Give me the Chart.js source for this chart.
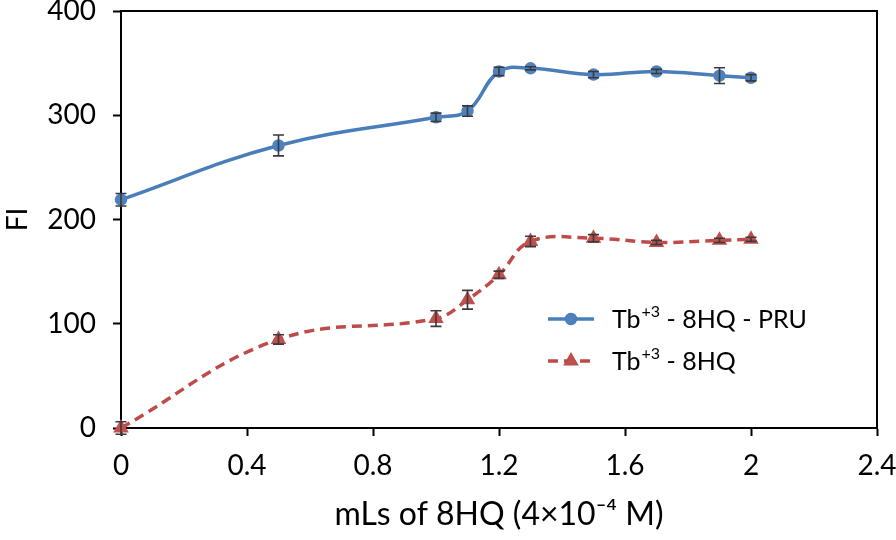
<!DOCTYPE html>
<html>
<head>
<meta charset="utf-8">
<script src="https://cdn.jsdelivr.net/npm/chart.js@4.4.1/dist/chart.umd.min.js"></script>
<style>
  body { margin: 0; background: #fff; }
  canvas { display: block; }
</style>
</head>
<body>
<canvas id="fiChart" width="896" height="540"></canvas>
<script>
// data
const xValues   = [0, 0.5, 1.0, 1.1, 1.2, 1.3, 1.5, 1.7, 1.9, 2.0];
const pruValues = [219, 271, 298, 304, 342, 345, 339, 342, 338, 336];
const pruErrors = [6, 10, 4, 5, 4, 1.5, 3, 2, 7.5, 3];
const hqValues  = [0, 85, 105, 123, 147, 179, 182, 178, 180, 181];
const hqErrors  = [6, 4.5, 7.5, 9, 3.5, 5, 3.5, 2, 2, 2];

const xTicks = [0, 0.4, 0.8, 1.2, 1.6, 2, 2.4];
const yTicks = [0, 100, 200, 300, 400];

// legend text split as [base, superscript, rest]
const seriesNames = [
    ['Tb', '+3', ' - 8HQ - PRU'],
    ['Tb', '+3', ' - 8HQ']
];
const xTitle = 'mLs of 8HQ (4×10⁻⁴ M)';
const yTitle = 'FI';

const FONT = 'Lato, "Open Sans", sans-serif';

const toPoints = (xs, ys) => xs.map((x, i) => ({ x: x, y: ys[i] }));

// error bars + box frame
const errorBars = {
    id: 'errorBars',
    afterDatasetsDraw(chart) {
        const { ctx, scales: { x, y } } = chart;
        const errs = [pruErrors, hqErrors];
        ctx.save();
        ctx.strokeStyle = '#3a3a3a';
        ctx.lineWidth = 1.6;
        chart.data.datasets.forEach((ds, di) => {
            ds.data.forEach((p, i) => {
                const e = errs[di][i];
                const px = x.getPixelForValue(p.x);
                const top = y.getPixelForValue(p.y + e);
                const bot = y.getPixelForValue(p.y - e);
                ctx.beginPath();
                ctx.moveTo(px, top); ctx.lineTo(px, bot);
                ctx.moveTo(px - 5.5, top); ctx.lineTo(px + 5.5, top);
                ctx.moveTo(px - 5.5, bot); ctx.lineTo(px + 5.5, bot);
                ctx.stroke();
            });
        });
        // frame top/right
        const a = chart.chartArea;
        ctx.strokeStyle = '#000';
        ctx.lineWidth = 2;
        ctx.beginPath();
        ctx.moveTo(a.left, a.top); ctx.lineTo(a.right, a.top); ctx.lineTo(a.right, a.bottom);
        ctx.stroke();
        ctx.restore();
    }
};

// legend with superscript text
const supLegend = {
    id: 'supLegend',
    afterDraw(chart) {
        const ctx = chart.ctx;
        const left = 548, top = 319, rowGap = 42, lineLen = 46;
        ctx.save();
        chart.data.datasets.forEach((ds, i) => {
            const yy = top + i * rowGap;
            ctx.strokeStyle = ds.borderColor;
            ctx.lineWidth = ds.borderWidth;
            ctx.setLineDash(ds.borderDash || []);
            ctx.beginPath();
            ctx.moveTo(left, yy); ctx.lineTo(left + lineLen, yy);
            ctx.stroke();
            ctx.setLineDash([]);
            Chart.helpers.drawPoint(ctx, {
                pointStyle: ds.pointStyle, radius: ds.pointRadius,
                rotation: 0, borderWidth: 1
            }, left + lineLen / 2, yy);
            ctx.fillStyle = ds.pointBackgroundColor;
            ctx.fill();

            const [base, sup, rest] = seriesNames[i];
            let tx = left + 64;
            ctx.fillStyle = '#000';
            ctx.textBaseline = 'alphabetic';
            ctx.textAlign = 'left';
            ctx.font = '25px ' + FONT;
            ctx.fillText(base, tx, yy + 9);
            tx += ctx.measureText(base).width + 1;
            ctx.font = '16px ' + FONT;
            ctx.fillText(sup, tx, yy - 2);
            tx += ctx.measureText(sup).width;
            ctx.font = '25px ' + FONT;
            ctx.fillText(rest, tx, yy + 9);
        });
        ctx.restore();
    }
};

new Chart(document.getElementById('fiChart').getContext('2d'), {
    type: 'line',
    data: {
        datasets: [{
            label: seriesNames[0].join(''),
            data: toPoints(xValues, pruValues),
            borderColor: '#4A7EBB',
            backgroundColor: '#4F81BD',
            pointBackgroundColor: '#4F81BD',
            pointBorderColor: '#4F81BD',
            pointStyle: 'circle',
            pointRadius: 4.5,
            borderWidth: 3.5,
            tension: 0.4,
            fill: false
        }, {
            label: seriesNames[1].join(''),
            data: toPoints(xValues, hqValues),
            borderColor: '#BE4B48',
            backgroundColor: '#C0504D',
            pointBackgroundColor: '#C0504D',
            pointBorderColor: '#C0504D',
            pointStyle: 'triangle',
            pointRadius: 5.5,
            borderWidth: 3.5,
            borderDash: [10, 6],
            tension: 0.4,
            fill: false
        }]
    },
    options: {
        responsive: false,
        animation: false,
        clip: false,
        layout: { padding: { left: 0, right: 19, top: 11, bottom: 0 } },
        plugins: {
            legend: { display: false },
            tooltip: { enabled: false }
        },
        scales: {
            x: {
                type: 'linear',
                min: 0, max: 2.4,
                afterBuildTicks: s => { s.ticks = xTicks.map(v => ({ value: v })); },
                afterFit: s => { s.height = 112; s.paddingLeft = 0; s.paddingRight = 0; },
                ticks: {
                    color: '#000',
                    font: { size: 28, family: FONT },
                    padding: 13,
                    maxRotation: 0,
                    callback: v => String(Number(v.toFixed(1)))
                },
                grid: { drawOnChartArea: false, tickLength: 8, tickColor: '#000', tickWidth: 2 },
                border: { color: '#000', width: 2 },
                title: {
                    display: true, text: xTitle, color: '#000',
                    font: { size: 32, family: FONT },
                    padding: { top: 0, bottom: 6 }
                }
            },
            y: {
                min: 0, max: 400,
                afterBuildTicks: s => { s.ticks = yTicks.map(v => ({ value: v })); },
                afterFit: s => { s.width = 121; s.paddingTop = 0; s.paddingBottom = 0; },
                ticks: {
                    color: '#000',
                    font: { size: 28, family: FONT },
                    padding: 17
                },
                grid: { drawOnChartArea: false, tickLength: 8, tickColor: '#000', tickWidth: 2 },
                border: { color: '#000', width: 2 },
                title: {
                    display: true, text: yTitle, color: '#000',
                    font: { size: 28, family: FONT },
                    padding: { top: 1, bottom: 0 }
                }
            }
        }
    },
    plugins: [errorBars, supLegend]
});
</script>
</body>
</html>
